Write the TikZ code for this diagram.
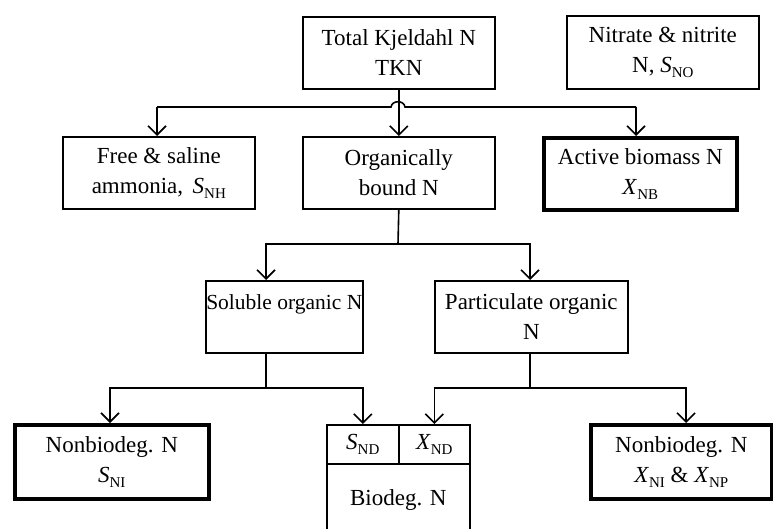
\documentclass[tikz,border=0pt]{standalone}
\usepackage{fontspec}
\setmainfont{Liberation Serif}
\usetikzlibrary{arrows.meta}
\newcommand\sub[1]{\raisebox{-0.5ex}{\fontsize{15}{15}\selectfont #1}}
\begin{document}
\begin{tikzpicture}[x=1pt,y=-1pt,
  font=\fontsize{23}{30}\selectfont,
  box/.style={draw,line width=1.6pt,anchor=north west,inner sep=0pt,
    align=center,minimum height=72pt},
  heavy/.style={box,line width=3.6pt},
  link/.style={line width=1.6pt},
  feed/.style={link,-{Straight Barb[length=9pt,width=18pt,line width=1.6pt]}}]
\useasboundingbox (0,0) rectangle (773,529);

% first row
\node[box,minimum width=192pt] (tkn) at (302,16) {Total Kjeldahl N\\TKN};
\node[box,minimum width=192pt,minimum height=73pt] (nit) at (566,15)
  {Nitrate \& nitrite\\N, \textit{S}\sub{NO}};

% second row
\node[box,minimum width=192pt] (free) at (62,136)
  {Free \& saline\\ammonia,\, \textit{S}\sub{NH}};
\node[box,minimum width=192pt] (org) at (302,136) {Organically\\bound N};
\node[heavy,minimum width=193pt] (act) at (542,136)
  {Active biomass N\\\textit{X}\sub{NB}};

% third row
\node[box,minimum width=157pt,font=\fontsize{21.5}{30}\selectfont] (sol) at (205,280)
  {Soluble organic N\\\mbox{}};
\node[box,minimum width=193pt] (part) at (434,280) {Particulate organic\\N};

% fourth row
\node[heavy,minimum width=194pt,minimum height=74pt] (nbl) at (13,423)
  {Nonbiodeg. N\\\textit{S}\sub{NI}};
\node[box,minimum width=72pt,minimum height=39pt] (snd) at (326,424)
  {\textit{S}\sub{ND}};
\node[box,minimum width=71pt,minimum height=39pt] (xnd) at (398,424)
  {\textit{X}\sub{ND}};
\node[box,minimum width=143pt,minimum height=72pt] (bio) at (326,463)
  {Biodeg. N};
\node[heavy,minimum width=181pt,minimum height=74pt] (nbr) at (589,423)
  {Nonbiodeg. N\\\textit{X}\sub{NI} \& \textit{X}\sub{NP}};

% junction points
\coordinate (ja) at (157,107);
\coordinate (jb) at (636,107);
\coordinate (jc) at (398,244);
\coordinate (jd) at (266,388);
\coordinate (je) at (530,388);

% TKN split: the cross line hops over the drop to organically bound N
\draw[feed] (tkn.south) -- (org.north);
\draw[link] (ja) -- (391,107)
  .. controls (392,100) and (404,100) .. (405,107) -- (jb);
\draw[feed] (ja) -- (ja |- free.north);
\draw[feed] (jb) -- (jb |- act.north);

% organic N split
\draw[link] (org.south) -- (jc);
\draw[feed] (jc) -- (jc -| 266,0) -- (sol.north -| 266,0);
\draw[feed] (jc) -- (jc -| je) -- (part.north -| je);

% soluble organic N split
\draw[link] (sol.south -| jd) -- (jd);
\draw[feed] (jd) -- (jd -| 110,0) -- (nbl.north -| 110,0);
\draw[feed] (jd) -- (jd -| snd.north) -- (snd.north);

% particulate organic N split
\draw[link] (part.south -| je) -- (je);
\draw[feed] (je) -- (je -| xnd.north) -- (xnd.north);
\draw[feed] (je) -- (je -| 686,0) -- (nbr.north -| 686,0);
\end{tikzpicture}
\end{document}
